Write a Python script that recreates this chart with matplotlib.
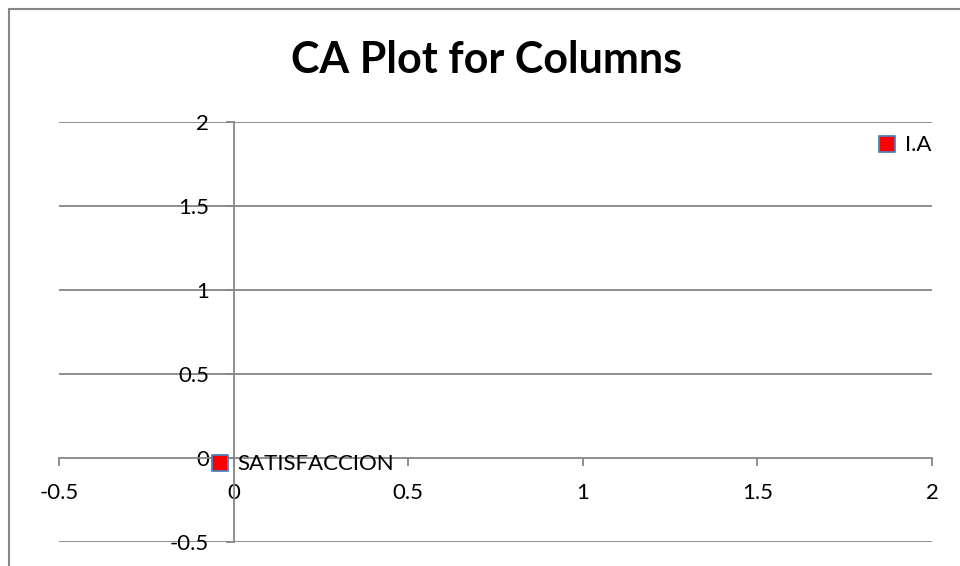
import matplotlib.pyplot as plt
from matplotlib.lines import Line2D

# column coordinates
labels = ["I.A", "SATISFACCION"]
dim1 = [1.87, -0.04]
dim2 = [1.87, -0.03]

xticks = [-0.5, 0, 0.5, 1, 1.5, 2]
yticks = [-0.5, 0, 0.5, 1, 1.5, 2]
grid_col = "#868686"

plt.rcParams['font.family'] = ['Lato', 'DejaVu Sans']

fig = plt.figure(figsize=(9.6, 5.66), dpi=100)
ax = fig.add_axes([59 / 960, 1 - 542 / 566, 873 / 960, 420 / 566])

# outer chart border (only top and left are visible in the crop)
bx, by = 8.5 / 960, 1 - 9 / 566
fig.lines.append(Line2D([bx, 1.0], [by, by], transform=fig.transFigure,
                        color=grid_col, linewidth=1.5))
fig.lines.append(Line2D([bx, bx], [0, by], transform=fig.transFigure,
                        color=grid_col, linewidth=1.5))

ax.set_xlim(-0.5, 2)
ax.set_ylim(-0.5, 2)
ax.set_xticks(xticks)
ax.set_yticks(yticks)
ax.set_xticklabels([f"{t:g}" for t in xticks])
ax.set_yticklabels([f"{t:g}" for t in yticks])

for y in yticks:
    if y != 0:
        ax.axhline(y, color=grid_col, linewidth=1.3, zorder=1)

for s in ["top", "right"]:
    ax.spines[s].set_visible(False)
ax.spines["left"].set_position(("data", 0))
ax.spines["bottom"].set_position(("data", 0))
for s in ["left", "bottom"]:
    ax.spines[s].set_color(grid_col)
    ax.spines[s].set_linewidth(1.3)

ax.tick_params(axis="both", direction="out", length=5.8, width=1.3,
               color=grid_col, labelsize=16, pad=12)

ax.scatter(dim1, dim2, marker="s", s=140, color="red",
           edgecolor="#4F81BD", linewidth=1.3, zorder=3, clip_on=False)
for x, y, t in zip(dim1, dim2, labels):
    ax.annotate(t, (x, y), xytext=(13, -1), textcoords="offset points",
                va="center", ha="left", fontsize=16)

fig.text(487 / 960, 1 - 60 / 566, "CA Plot for Columns", ha="center",
         va="center", fontsize=31, fontweight="bold")

fig.savefig("out.png", dpi=100)
